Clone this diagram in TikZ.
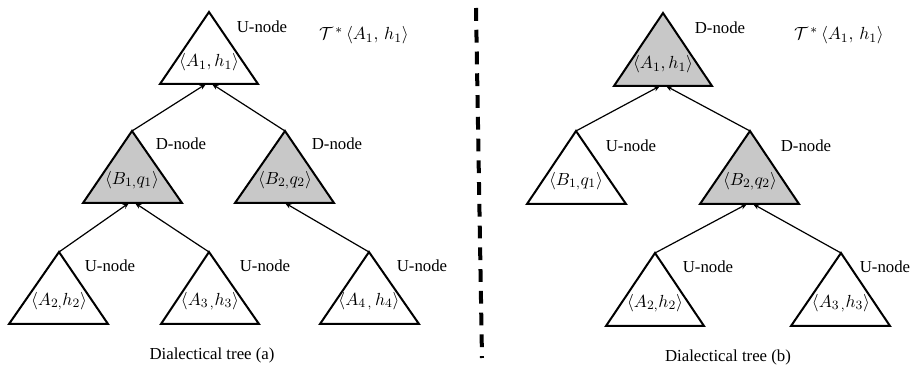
\documentclass[tikz,border=0pt]{standalone}
\usepackage{fontspec}
\setmainfont{Liberation Serif}
\usetikzlibrary{arrows.meta,calc}
\definecolor{dgray}{RGB}{200,200,200}
\begin{document}
\begin{tikzpicture}[x=0.625pt,y=-0.625pt,
  tri/.style={draw=black,line width=1.25pt,line join=miter},
  dnode/.style={tri,fill=dgray},
  unode/.style={tri,fill=white},
  lab/.style={inner sep=0pt,font=\fontsize{10.5}{12}\selectfont},
  tlab/.style={inner sep=0pt,font=\fontsize{10.95}{13}\selectfont},
  arg/.style={inner sep=0pt,font=\fontsize{10.95}{13}\selectfont},
  edge/.style={line width=0.75pt,-{Stealth[length=4pt,width=3.2pt]}},
  sep/.style={line width=2.5pt,dash pattern=on 8pt off 5.6pt}]
\useasboundingbox (0,0) rectangle (914,365);

% ---------- Tree (a) ----------
% root
\coordinate (aRt) at (209,12); \coordinate (aRl) at (160,84); \coordinate (aRr) at (258,84);
\draw[unode] (aRt) -- (aRl) -- (aRr) -- cycle;
\node[arg] (aRlab) at (209,62) {$\langle A_1,h_1\rangle$};
\coordinate (aRinL) at (206,84); \coordinate (aRinR) at (212,84);
% B1
\coordinate (aB1t) at (132,131); \coordinate (aB1l) at (83,203); \coordinate (aB1r) at (182,203);
\draw[dnode] (aB1t) -- (aB1l) -- (aB1r) -- cycle;
\node[arg] (aB1lab) at (132,180) {$\langle B_{1,}q_1\rangle$};
\coordinate (aB1inL) at (129,203); \coordinate (aB1inR) at (135,203);
% B2
\coordinate (aB2t) at (285,131); \coordinate (aB2l) at (235,203); \coordinate (aB2r) at (334,203);
\draw[dnode] (aB2t) -- (aB2l) -- (aB2r) -- cycle;
\node[arg] (aB2lab) at (285,180) {$\langle B_{2,}q_2\rangle$};
\coordinate (aB2in) at (285,203);
% A2
\coordinate (aA2t) at (59,252); \coordinate (aA2l) at (9,324); \coordinate (aA2r) at (108,324);
\draw[unode] (aA2t) -- (aA2l) -- (aA2r) -- cycle;
\node[arg] (aA2lab) at (59,301) {$\langle A_{2,}h_2\rangle$};
% A3
\coordinate (aA3t) at (209,252); \coordinate (aA3l) at (161,324); \coordinate (aA3r) at (259,324);
\draw[unode] (aA3t) -- (aA3l) -- (aA3r) -- cycle;
\node[arg] (aA3lab) at (210,301) {$\langle A_{3\,,}h_3\rangle$};
% A4
\coordinate (aA4t) at (369,252); \coordinate (aA4l) at (320,324); \coordinate (aA4r) at (419,324);
\draw[unode] (aA4t) -- (aA4l) -- (aA4r) -- cycle;
\node[arg] (aA4lab) at (369,301) {$\langle A_{4\,,}\,h_4\rangle$};
% edges
\draw[edge] (aB1t) -- (aRinL);
\draw[edge] (aB2t) -- (aRinR);
\draw[edge] (aA2t) -- (aB1inL);
\draw[edge] (aA3t) -- (aB1inR);
\draw[edge] (aA4t) -- (aB2in);
% labels
\node[lab] (aRtype) at (262,27) {U-node};
\node[tlab] (aTstar) at (364,35) {$\mathcal{T}^{\,*}\,\langle A_1,\, h_1\rangle$};
\node[lab] (aB1type) at (181,144) {D-node};
\node[lab] (aB2type) at (337,144) {D-node};
\node[lab] (aA2type) at (110,266) {U-node};
\node[lab] (aA3type) at (265,266) {U-node};
\node[lab] (aA4type) at (422,266) {U-node};
\node[lab] (acap) at (212,355) {Dialectical tree (a)};

% ---------- separator ----------
\coordinate (sTop) at (476,8); \coordinate (sBot) at (482,358);
\draw[sep] (sTop) -- (sBot);

% ---------- Tree (b) ----------
\coordinate (bRt) at (663,13); \coordinate (bRl) at (614,86); \coordinate (bRr) at (712,86);
\draw[dnode] (bRt) -- (bRl) -- (bRr) -- cycle;
\node[arg] (bRlab) at (663,64) {$\langle A_1,h_1\rangle$};
\coordinate (bRinL) at (660,86); \coordinate (bRinR) at (666,86);
% B1
\coordinate (bB1t) at (576,131); \coordinate (bB1l) at (527,204); \coordinate (bB1r) at (626,204);
\draw[unode] (bB1t) -- (bB1l) -- (bB1r) -- cycle;
\node[arg] (bB1lab) at (576,181) {$\langle B_{1,}q_1\rangle$};
% B2
\coordinate (bB2t) at (750,131); \coordinate (bB2l) at (700,204); \coordinate (bB2r) at (799,204);
\draw[dnode] (bB2t) -- (bB2l) -- (bB2r) -- cycle;
\node[arg] (bB2lab) at (750,181) {$\langle B_{2,}q_2\rangle$};
\coordinate (bB2inL) at (747,204); \coordinate (bB2inR) at (753,204);
% A2
\coordinate (bA2t) at (655,253); \coordinate (bA2l) at (606,326); \coordinate (bA2r) at (704,326);
\draw[unode] (bA2t) -- (bA2l) -- (bA2r) -- cycle;
\node[arg] (bA2lab) at (655,303) {$\langle A_{2,}h_2\rangle$};
% A3
\coordinate (bA3t) at (841,253); \coordinate (bA3l) at (791,326); \coordinate (bA3r) at (890,326);
\draw[unode] (bA3t) -- (bA3l) -- (bA3r) -- cycle;
\node[arg] (bA3lab) at (841,303) {$\langle A_{3\,,}h_3\rangle$};
% edges
\draw[edge] (bB1t) -- (bRinL);
\draw[edge] (bB2t) -- (bRinR);
\draw[edge] (bA2t) -- (bB2inL);
\draw[edge] (bA3t) -- (bB2inR);
% labels
\node[lab] (bRtype) at (720,28) {D-node};
\node[tlab] (bTstar) at (839,35) {$\mathcal{T}^{\,*}\,\langle A_1,\, h_1\rangle$};
\node[lab] (bB1type) at (631,146) {U-node};
\node[lab] (bB2type) at (806,146) {D-node};
\node[lab] (bA2type) at (708,267) {U-node};
\node[lab] (bA3type) at (885,267) {U-node};
\node[lab] (bcap) at (728,357) {Dialectical tree (b)};
\end{tikzpicture}
\end{document}
